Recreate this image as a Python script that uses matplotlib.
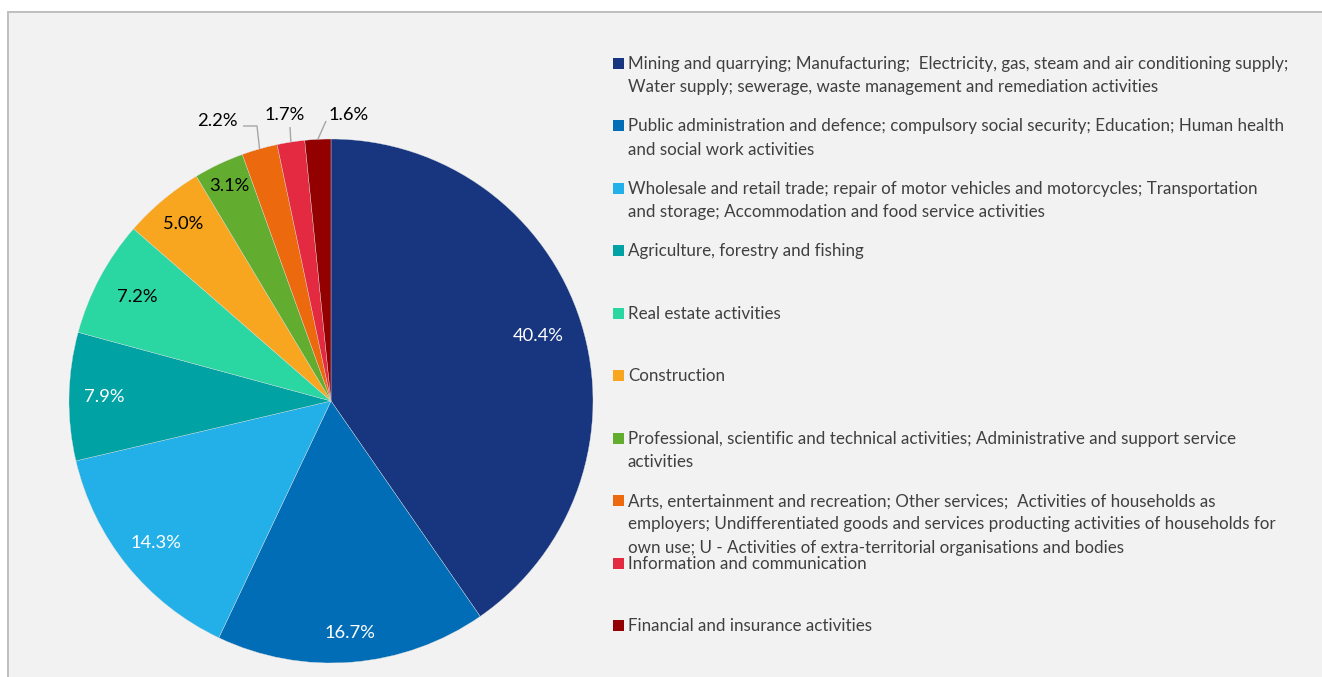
import matplotlib
matplotlib.use("Agg")
import matplotlib.pyplot as plt
from matplotlib.patches import Rectangle
import numpy as np

plt.rcParams['font.family'] = ['Lato', 'DejaVu Sans']

# ---------------- data ----------------
categories = [
    "Mining and quarrying; Manufacturing;  Electricity, gas, steam and air conditioning supply;\nWater supply; sewerage, waste management and remediation activities",
    "Public administration and defence; compulsory social security; Education; Human health\nand social work activities",
    "Wholesale and retail trade; repair of motor vehicles and motorcycles; Transportation\nand storage; Accommodation and food service activities",
    "Agriculture, forestry and fishing",
    "Real estate activities",
    "Construction",
    "Professional, scientific and technical activities; Administrative and support service\nactivities",
    "Arts, entertainment and recreation; Other services;  Activities of households as\nemployers; Undifferentiated goods and services producting activities of households for\nown use; U - Activities of extra-territorial organisations and bodies",
    "Information and communication",
    "Financial and insurance activities",
]
shares = [40.4, 16.7, 14.3, 7.9, 7.2, 5.0, 3.1, 2.2, 1.7, 1.6]
labels = ["40.4%", "16.7%", "14.3%", "7.9%", "7.2%", "5.0%", "3.1%", "2.2%", "1.7%", "1.6%"]
colors = ["#17367f", "#016db7", "#23b0e8", "#00a2a4", "#2ad6a2",
          "#f8a61f", "#62ad30", "#ec690e", "#e42a40", "#920000"]
label_colors = ["white", "white", "white", "white", "black", "black", "black",
                "black", "black", "black"]

# ---------------- layout ----------------
W, H = 1322, 677
DPI = 100
fig = plt.figure(figsize=(W / DPI, H / DPI), dpi=DPI)
fig.patch.set_facecolor("white")

# chart area background with border
fig.patches.append(Rectangle((8 / W, -0.01), 1.02, (H - 12) / H + 0.01,
                             transform=fig.transFigure, facecolor="#f2f2f2",
                             edgecolor="#bfbfbf", linewidth=1.4, zorder=-5))

cx, cy, R = 331.0, 401.0, 262.0
left_px, right_px, top_px, bot_px = 17.0, 645.0, 87.0, 677.0
ax = fig.add_axes([left_px / W, (H - bot_px) / H, (right_px - left_px) / W,
                   (bot_px - top_px) / H])
ax.set_facecolor("none")
ax.set_zorder(1)

wedges, _ = ax.pie(shares, colors=colors, startangle=90, counterclock=False,
                   radius=1.0, wedgeprops=dict(linewidth=0.25, edgecolor="#e0e0e0"))
ax.set_xlim((left_px - cx) / R, (right_px - cx) / R)
ax.set_ylim((cy - bot_px) / R, (cy - top_px) / R)
ax.set_aspect("auto")
ax.axis("off")

LABEL_FS = 13.2

# inside labels: radial distance per label
inside_dist = [0.83, 0.89, 0.86, 0.865, 0.84, 0.88, 0.91]
for i, d in enumerate(inside_dist):
    w = wedges[i]
    mid = np.deg2rad((w.theta1 + w.theta2) / 2)
    ax.text(d * np.cos(mid), d * np.sin(mid), labels[i], ha="center", va="center",
            fontsize=LABEL_FS, color=label_colors[i])

# outside labels with leader lines (label positions and leader end points in px)
out_label_px = {7: (217, 121), 8: (285, 115), 9: (349, 115)}
leader_px = {7: [(257, 126), (243, 126)], 8: [(290, 127)], 9: [(326, 121)]}

def p2d(px, py):
    return ((px - cx) / R, (cy - py) / R)

for i, (px, py) in out_label_px.items():
    w = wedges[i]
    mid = np.deg2rad((w.theta1 + w.theta2) / 2)
    pts = [(np.cos(mid), np.sin(mid))] + [p2d(*p) for p in leader_px[i]]
    xs, ys = zip(*pts)
    ax.plot(xs, ys, color="#a6a6a6", linewidth=1.0, solid_capstyle="butt")
    lx, ly = p2d(px, py)
    ax.text(lx, ly, labels[i], ha="center", va="center", fontsize=LABEL_FS, color="black")

# ---------------- legend (manual) ----------------
fs = 11.0
first_line = categories[0].split("\n")[0]
t = fig.text(0, 0, first_line, fontsize=fs)
fig.canvas.draw()
wpx = t.get_window_extent().width
t.remove()
fs = fs * 659.0 / wpx

item_centers = [63.5 + 62.45 * k for k in range(len(categories))]
line_step = 23.2
for k, (cat, col) in enumerate(zip(categories, colors)):
    yc = item_centers[k]
    sq = 11.0
    fig.patches.append(Rectangle((613 / W, (H - yc - sq / 2) / H), sq / W, sq / H,
                                 transform=fig.transFigure, facecolor=col,
                                 edgecolor="none", zorder=3))
    for j, line in enumerate(cat.split("\n")):
        base = yc + 5.5 + j * line_step
        fig.text(628 / W, (H - base) / H, line, fontsize=fs, color="#404040",
                 ha="left", va="baseline")

fig.savefig("out.png", dpi=DPI, facecolor=fig.get_facecolor())
